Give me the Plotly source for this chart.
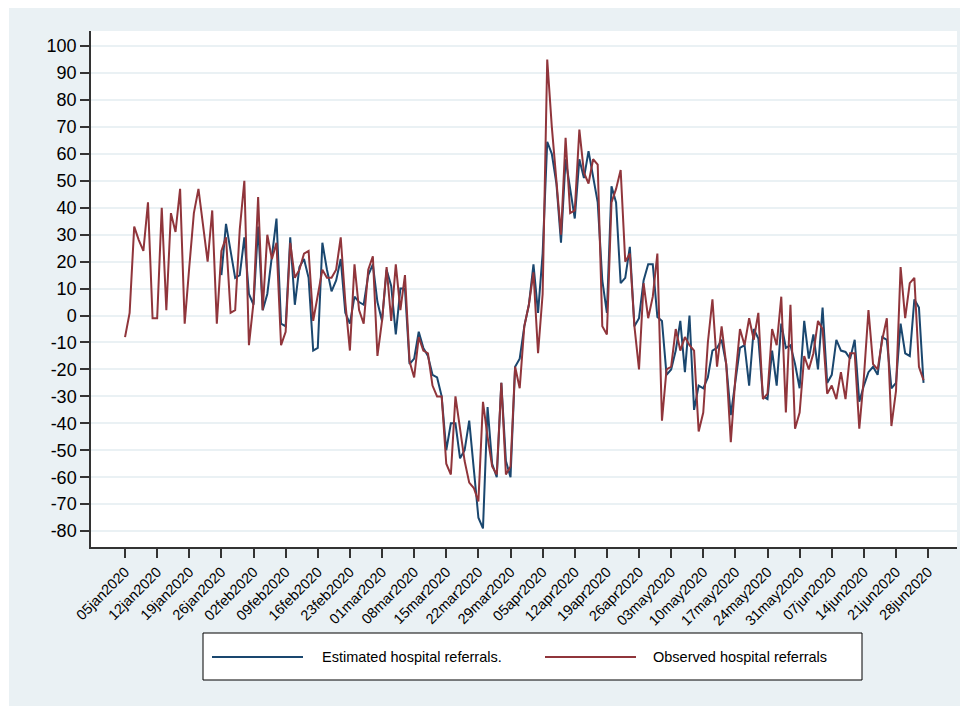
import pandas as pd
import plotly.graph_objects as go

# ---------------- data ----------------
obs_start = "2020-01-05"
observed = [
    -8, 1, 33, 28, 24, 42, -1, -1, 40, 2, 38, 31, 47, -3, 18, 38, 47, 33, 20, 39,
    -3, 24, 29, 1, 2, 32, 50, -11, 5, 44, 2, 30, 21, 27, -11, -6, 27, 14, 17, 23,
    24, -2, 7, 17, 14, 14, 17, 29, 5, -13, 19, 2, -3, 17, 22, -15, -2, 18, -2, 19,
    2, 15, -17, -23, -8, -13, -14, -26, -30, -30, -55, -59, -30, -42, -54, -62, -64, -69, -32, -45,
    -56, -59, -25, -59, -56, -19, -27, -4, 4, 16, -14, 8, 95, 70, 50, 30, 66, 38, 39, 69,
    53, 49, 58, 56, -4, -7, 42, 47, 54, 20, 23, -4, -20, 12, -1, 7, 23, -39, -20, -19,
    -5, -13, -8, -11, -13, -43, -36, -10, 6, -19, -4, -18, -47, -23, -5, -11, -1, -9, 1, -31,
    -29, -5, -11, 7, -36, 4, -42, -36, -15, -20, -14, -2, -5, -29, -26, -31, -21, -31, -14, -14,
    -42, -23, 2, -18, -20, -9, -1, -41, -28, 18, -1, 12, 14, -19, -24,
]

est_start = "2020-01-26"
estimated = [
    15, 34, 24, 14, 15, 29, 8, 4, 33, 2, 8, 22, 36, -3, -4, 29, 4, 18, 21, 14,
    -13, -12, 27, 17, 9, 13, 21, 1, -3, 7, 5, 4, 15, 19, 5, -2, 17, 11, -7, 10,
    10, -18, -16, -6, -12, -15, -22, -23, -30, -50, -40, -40, -53, -50, -39, -57, -75, -79, -34, -55,
    -60, -25, -54, -60, -19, -16, -4, 4, 19, 1, 23, 64.5, 60, 49, 27, 58, 47, 36, 58, 51,
    61, 51, 42, 13, 1, 48, 42, 12, 14, 25.5, -4, -1, 13, 19, 19, -0.5, -2, -22, -20, -13,
    -2, -21, 0, -35, -26, -27, -23, -13, -12, -9, -18, -37, -25, -12, -11, -26, -5, -8.5, -30, -31,
    -13, -26, -3, -12, -11, -18, -27, -2, -16, -7, -20, 3, -25, -22, -9, -13, -13.5, -16, -9, -32,
    -26, -21, -19, -22, -8, -9, -27, -25, -3, -14, -15, 6, 3, -25,
]

x_tick_dates = pd.date_range("2020-01-05", "2020-06-28", freq="7D")
x_tick_labels = [
    "05jan2020", "12jan2020", "19jan2020", "26jan2020", "02feb2020", "09feb2020",
    "16feb2020", "23feb2020", "01mar2020", "08mar2020", "15mar2020", "22mar2020",
    "29mar2020", "05apr2020", "12apr2020", "19apr2020", "26apr2020", "03may2020",
    "10may2020", "17may2020", "24may2020", "31may2020", "07jun2020", "14jun2020",
    "21jun2020", "28jun2020",
]
y_ticks = list(range(-80, 101, 10))

series_names = ["Estimated hospital referrals.", "Observed hospital referrals"]
colors = ["#1a476f", "#90353b"]

obs_dates = pd.date_range(obs_start, periods=len(observed), freq="D")
est_dates = pd.date_range(est_start, periods=len(estimated), freq="D")

# ---------------- layout geometry (page pixels; page body has an 8px margin) ----------------
OFF = 8
W, H = 968 - OFF, 706 - OFF
PL, PR, PT, PB = 91 - OFF, 957 - OFF, 31 - OFF, 547 - OFF   # plot area edges (figure px)


def px_x(p):
    """page pixel x -> paper coordinate"""
    return (p - OFF - PL) / (PR - PL)


def px_y(p):
    """page pixel y -> paper coordinate"""
    return (PB - (p - OFF)) / (PB - PT)


FONT = "Arial, 'Liberation Sans', sans-serif"

fig = go.Figure()
fig.add_trace(go.Scatter(x=est_dates, y=estimated, mode="lines", name=series_names[0],
                         line=dict(color=colors[0], width=2), showlegend=False))
fig.add_trace(go.Scatter(x=obs_dates, y=observed, mode="lines", name=series_names[1],
                         line=dict(color=colors[1], width=2), showlegend=False))

shapes = []
# thin white strip at left of light graph region
shapes.append(dict(type="rect", xref="paper", yref="paper", layer="below",
                   x0=px_x(OFF), x1=px_x(9), y0=px_y(706), y1=px_y(OFF),
                   fillcolor="white", line=dict(width=0)))
# legend box
shapes.append(dict(type="rect", xref="paper", yref="paper",
                   x0=px_x(203), x1=px_x(862), y0=px_y(680), y1=px_y(633),
                   fillcolor="white", line=dict(color="black", width=1)))
ly = px_y(657)
shapes.append(dict(type="line", xref="paper", yref="paper",
                   x0=px_x(212), x1=px_x(303), y0=ly, y1=ly,
                   line=dict(color=colors[0], width=2)))
shapes.append(dict(type="line", xref="paper", yref="paper",
                   x0=px_x(545), x1=px_x(636), y0=ly, y1=ly,
                   line=dict(color=colors[1], width=2)))

annotations = [
    dict(xref="paper", yref="paper", x=px_x(320), y=ly, text=series_names[0],
         showarrow=False, xanchor="left", yanchor="middle",
         font=dict(family=FONT, size=14.5, color="black")),
    dict(xref="paper", yref="paper", x=px_x(651), y=ly, text=series_names[1],
         showarrow=False, xanchor="left", yanchor="middle",
         font=dict(family=FONT, size=14.5, color="black")),
]

fig.update_layout(
    width=W, height=H,
    margin=dict(l=PL, r=W - PR, t=PT, b=H - PB, pad=0),
    paper_bgcolor="#eaf1f4",
    plot_bgcolor="white",
    shapes=shapes,
    annotations=annotations,
    showlegend=False,
    font=dict(family=FONT, color="black"),
)

fig.update_xaxes(
    type="date",
    range=["2019-12-28 14:00", "2020-07-04 07:00"],
    tickmode="array", tickvals=x_tick_dates, ticktext=x_tick_labels,
    tickangle=-45, tickfont=dict(family=FONT, size=14.5, color="black"),
    ticks="outside", ticklen=9, tickwidth=1.5, tickcolor="#333333",
    showline=True, linecolor="#333333", linewidth=1.5,
    showgrid=False, zeroline=False,
)
fig.update_yaxes(
    range=[-85.9, 105.6],
    tickmode="array", tickvals=y_ticks, ticktext=[str(v) for v in y_ticks],
    tickfont=dict(family=FONT, size=18, color="black"),
    ticks="outside", ticklen=9, tickwidth=1.5, tickcolor="#333333",
    showline=True, linecolor="#333333", linewidth=1.5,
    showgrid=True, gridcolor="#eaf1f4", gridwidth=1.5, zeroline=False,
)

fig.write_html("out.html")
